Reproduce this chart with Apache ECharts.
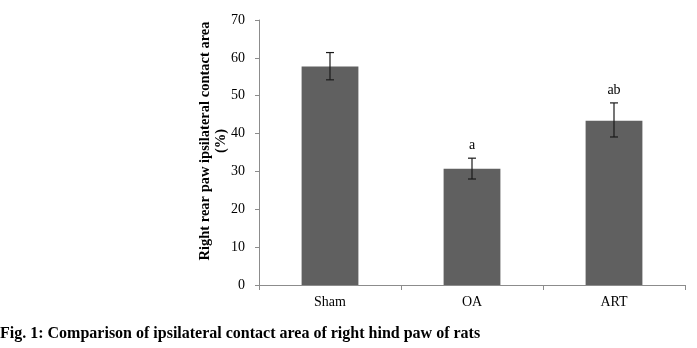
<!DOCTYPE html>
<html>
<head>
<meta charset="utf-8">
<script src="https://cdn.jsdelivr.net/npm/echarts@6/dist/echarts.min.js"></script>
<style>
  html, body { margin: 0; padding: 0; background: #fff; }
  #chart { width: 697px; height: 348px; }
</style>
</head>
<body>
<div id="chart"></div>
<script>
// Group names and measured contact area (%) with error range
const categories = ['Sham', 'OA', 'ART'];
const means = [57.7, 30.7, 43.4];
const errLow = [54.2, 28.0, 39.1];
const errHigh = [61.4, 33.5, 48.1];
const sigLabels = ['', 'a', 'ab'];
const yTicks = [0, 10, 20, 30, 40, 50, 60, 70];

const serif = '"Liberation Serif", "Times New Roman", serif';
const chart = echarts.init(document.getElementById('chart'), null, { renderer: 'canvas' });

const errData = categories.map((c, i) => [i, errLow[i], errHigh[i], sigLabels[i]]);

chart.setOption({
  animation: false,
  backgroundColor: '#ffffff',
  grid: { left: 259, right: 12, top: 20, bottom: 63, containLabel: false },
  xAxis: {
    type: 'category',
    data: categories,
    axisLine: { lineStyle: { color: '#8c8c8c', width: 1 } },
    axisTick: { show: true, alignWithLabel: false, length: 5, lineStyle: { color: '#8c8c8c' } },
    axisLabel: { color: '#000', fontFamily: serif, fontSize: 14, margin: 10 },
    splitLine: { show: false }
  },
  yAxis: {
    type: 'value',
    min: yTicks[0],
    max: yTicks[yTicks.length - 1],
    interval: 10,
    axisLine: { show: true, lineStyle: { color: '#8c8c8c', width: 1 } },
    axisTick: { show: true, length: 4, lineStyle: { color: '#8c8c8c' } },
    axisLabel: { color: '#000', fontFamily: serif, fontSize: 14, margin: 14 },
    splitLine: { show: false }
  },
  series: [
    {
      type: 'bar',
      data: means,
      barWidth: '40%',
      itemStyle: { color: '#606060' },
      silent: true
    },
    {
      type: 'custom',
      data: errData,
      silent: true,
      z: 10,
      renderItem: function (params, api) {
        const x = api.coord([api.value(0), 0])[0];
        const lo = api.coord([api.value(0), api.value(1)])[1];
        const hi = api.coord([api.value(0), api.value(2)])[1];
        const cap = 4;
        const style = { stroke: '#1a1a1a', lineWidth: 1.2 };
        const children = [
          { type: 'line', shape: { x1: x, y1: hi, x2: x, y2: lo }, style: style },
          { type: 'line', shape: { x1: x - cap, y1: hi, x2: x + cap, y2: hi }, style: style },
          { type: 'line', shape: { x1: x - cap, y1: lo, x2: x + cap, y2: lo }, style: style }
        ];
        const txt = sigLabels[params.dataIndex];
        if (txt) {
          children.push({
            type: 'text',
            style: {
              text: txt, x: x, y: hi - 6,
              align: 'center', verticalAlign: 'bottom',
              fill: '#000', font: '14px ' + serif
            }
          });
        }
        return { type: 'group', children: children };
      }
    }
  ],
  graphic: [
    {
      type: 'text',
      x: 213, y: 141,
      rotation: Math.PI / 2,
      style: {
        text: 'Right rear paw ipsilateral contact area\n(%)',
        align: 'center', verticalAlign: 'middle',
        fill: '#000', font: 'bold 14.5px ' + serif, lineHeight: 16
      }
    },
    {
      type: 'text',
      left: 0, top: 326,
      style: {
        text: 'Fig. 1: Comparison of ipsilateral contact area of right hind paw of rats',
        fill: '#000', font: 'bold 16px ' + serif
      }
    }
  ]
});
</script>
</body>
</html>
